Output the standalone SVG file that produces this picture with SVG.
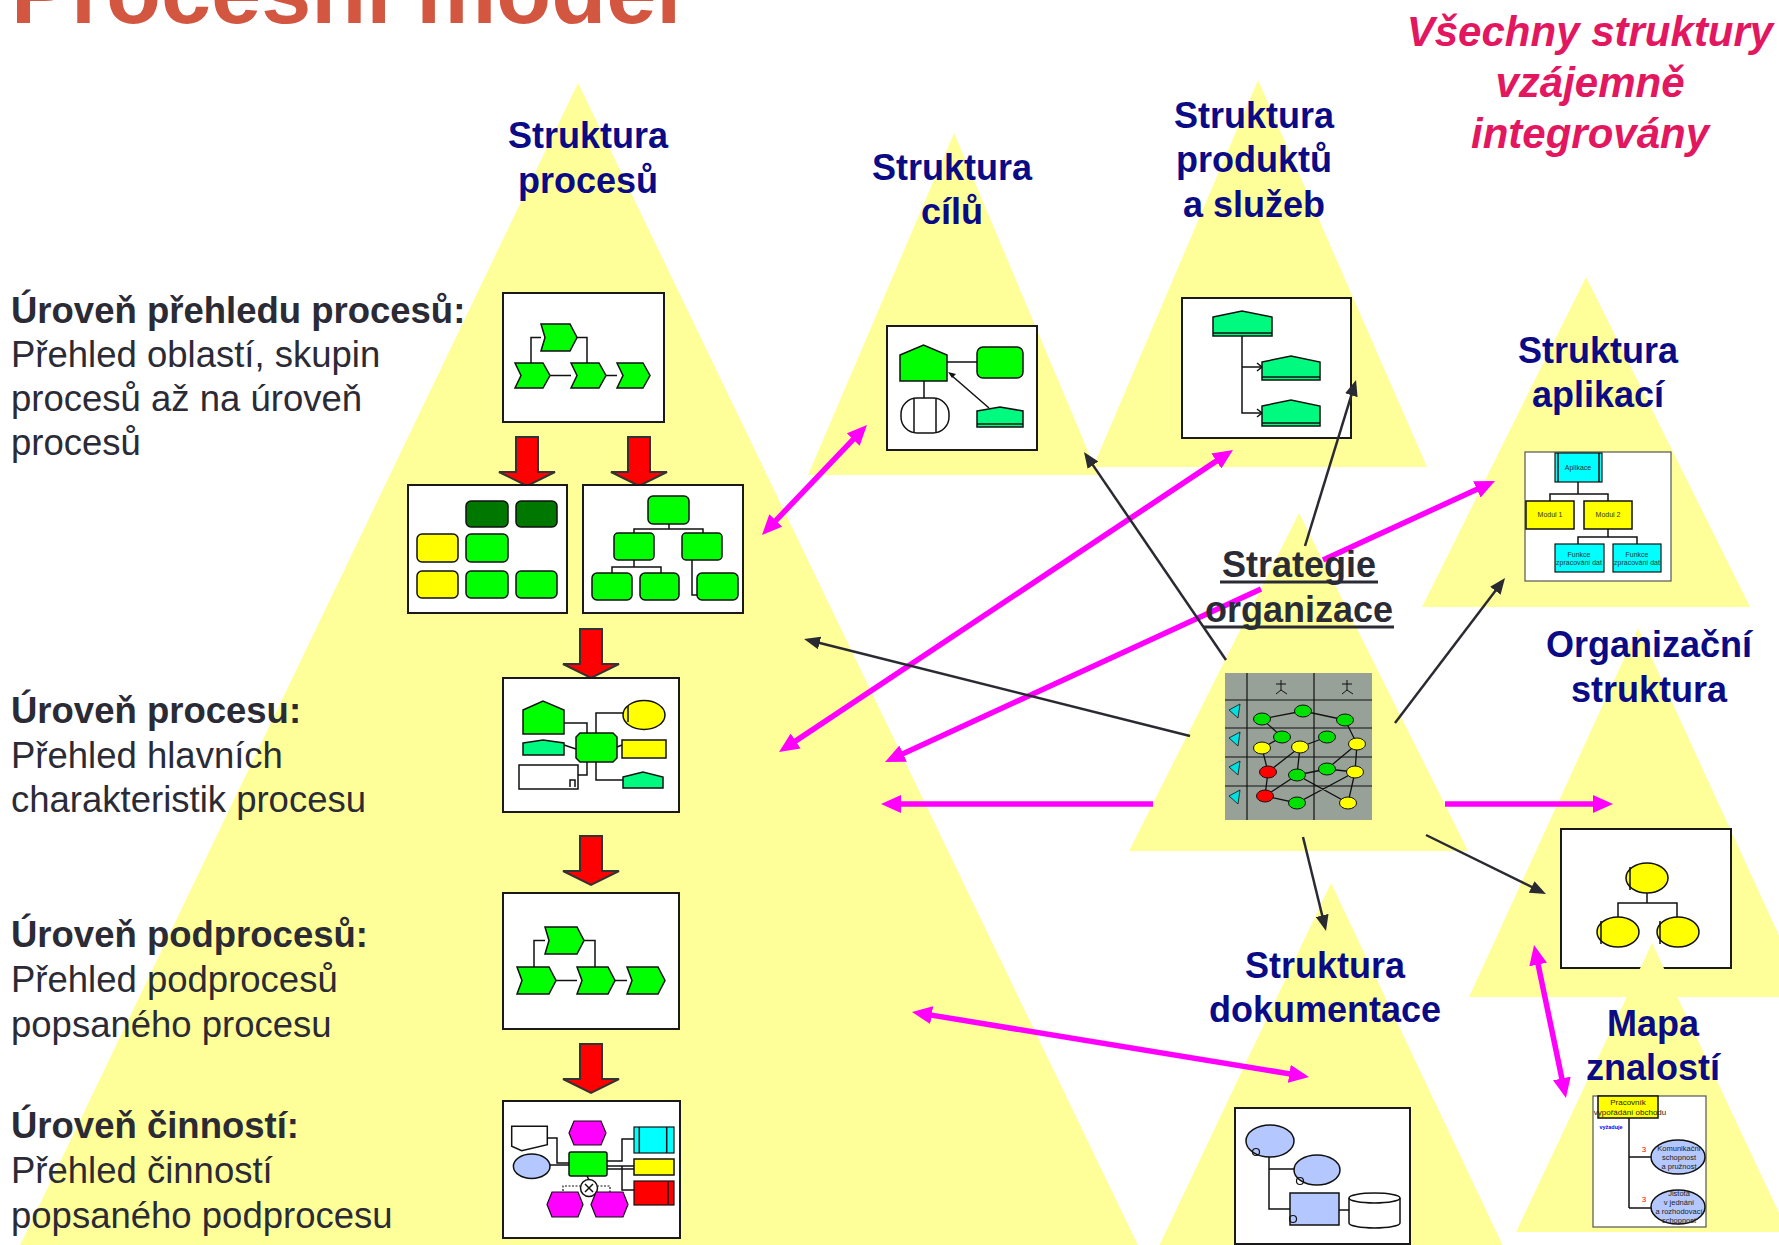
<svg xmlns="http://www.w3.org/2000/svg" width="1779" height="1245" viewBox="0 0 1779 1245">
<style>
.tri{fill:#FFFF99}
.box{fill:#fff;stroke:#1a1a1a;stroke-width:2}
.boxt{fill:#fff;stroke:#555;stroke-width:1.2}
.lbl{font-family:"Liberation Sans",Arial,sans-serif;font-weight:bold;font-size:36px;fill:#0B0B85;text-anchor:middle}
.lvh{font-family:"Liberation Sans",Arial,sans-serif;font-weight:bold;font-size:36.5px;fill:#2B2B36}
.lvt{font-family:"Liberation Sans",Arial,sans-serif;font-size:36.5px;fill:#2B2B36}
.g{fill:#00FF00;stroke:#111;stroke-width:1.5}
.dg{fill:#007800;stroke:#111;stroke-width:1.5}
.tl{fill:#00FA80;stroke:#111;stroke-width:1.5}
.y{fill:#FFFF00;stroke:#111;stroke-width:1.5}
.cy{fill:#00FFFF;stroke:#111;stroke-width:1.2}
.mg{fill:#FF00FF;stroke:#111;stroke-width:1.2}
.lb{fill:#B4C8FF;stroke:#111;stroke-width:1.5}
.rd{fill:#FF0000;stroke:#111;stroke-width:1.2}
.wh{fill:#fff;stroke:#111;stroke-width:1.5}
.ln{stroke:#111;stroke-width:1.5;fill:none}
.tiny{font-family:"Liberation Sans",Arial,sans-serif;font-size:7px;fill:#333;text-anchor:middle}
.mag{stroke:#FF00FF;stroke-width:5.5;fill:none;marker-start:url(#mh);marker-end:url(#mh)}
.blk{stroke:#2A2A33;stroke-width:2.5;fill:none;marker-end:url(#bh)}
</style>
<defs>
<marker id="mh" viewBox="0 0 20 18" refX="8" refY="9" markerWidth="20" markerHeight="18" markerUnits="userSpaceOnUse" orient="auto-start-reverse"><path d="M0,0 L20,9 L0,18 Z" fill="#FF00FF"/></marker>
<marker id="bh" viewBox="0 0 16 13" refX="8" refY="6.5" markerWidth="16" markerHeight="13" markerUnits="userSpaceOnUse" orient="auto"><path d="M0,0 L16,6.5 L0,13 Z" fill="#2A2A33"/></marker>
<path id="ra" d="M-11,0 H11 V35 H28 L0,49 L-28,35 H-11 Z" fill="#FF0000" stroke="#333" stroke-width="2" stroke-linejoin="miter"/>
</defs>
<rect width="1779" height="1245" fill="#fff"/>

<text x="11" y="23" font-family="Liberation Sans, Arial, sans-serif" font-weight="bold" font-size="90" fill="#D35640">Procesní model</text>

<g id="tri-procesy"><polygon class="tri" points="578,83 13,1260 1145,1260"/></g>
<g id="tri-cile"><polygon class="tri" points="954,133 808,475 1098,475"/></g>
<g id="tri-produkty"><polygon class="tri" points="1258,80 1093,467 1427,467"/></g>
<g id="tri-aplikace"><polygon class="tri" points="1586,277 1422,607 1750,607"/></g>
<g id="tri-strategie"><polygon class="tri" points="1299,513 1129,851 1468,851"/></g>
<g id="tri-organizace"><polygon class="tri" points="1638,628 1469,997 1807,997"/></g>
<g id="tri-dokumentace"><polygon class="tri" points="1331,883 1150,1265 1512,1265"/></g>

<!-- Process structure boxes -->
<g id="box-prehled">
<rect class="box" x="503" y="293" width="161" height="129"/>
<path class="ln" d="M541,337.5 H531 V363 M577,337.5 H587 V363 M550,375.5 H571 M606,375.5 H617"/>
<polygon class="g" points="541,324 570,324 577,337.5 570,351 541,351 545,337.5"/>
<polygon class="g" points="515,363 543,363 550,375.5 543,388 515,388 521,375.5"/>
<polygon class="g" points="571,363 599,363 606,375.5 599,388 571,388 577,375.5"/>
<polygon class="g" points="617,363 643,363 650,375.5 643,388 617,388 623,375.5"/>
</g>
<use href="#ra" x="527" y="437"/>
<use href="#ra" x="639" y="437"/>
<g id="box-oblasti">
<rect class="box" x="408" y="485" width="159" height="128" stroke-width="3"/>
<rect class="dg" x="466" y="501" width="42" height="26" rx="5"/>
<rect class="dg" x="516" y="501" width="41" height="26" rx="5"/>
<rect class="y" x="417" y="534" width="41" height="28" rx="5"/>
<rect class="g" x="466" y="534" width="42" height="28" rx="5"/>
<rect class="y" x="417" y="571" width="41" height="27" rx="5"/>
<rect class="g" x="466" y="571" width="42" height="27" rx="5"/>
<rect class="g" x="516" y="571" width="41" height="27" rx="5"/>
</g>
<g id="box-hierarchie">
<rect class="box" x="583" y="485" width="160" height="128"/>
<path class="ln" d="M669,524 V529 M634,533 V529 H703 V533 M634,560 V567 M612,573 V567 H661 V573 M692,560 V595 H697"/>
<rect class="g" x="648" y="496" width="41" height="28" rx="5"/>
<rect class="g" x="614" y="533" width="40" height="27" rx="4"/>
<rect class="g" x="682" y="533" width="40" height="27" rx="4"/>
<rect class="g" x="592" y="573" width="40" height="27" rx="5"/>
<rect class="g" x="640" y="573" width="39" height="27" rx="5"/>
<rect class="g" x="697" y="573" width="41" height="27" rx="5"/>
</g>
<use href="#ra" x="591" y="629"/>
<g id="box-proces">
<rect class="box" x="503" y="678" width="176" height="134"/>
<path class="ln" d="M564,723 H587 V733 M623,713 H596 V733 M596,762 V780 H623 M587,762 V775 H578 M564,745 L576,749 M617,747 L622,745"/>
<polygon class="g" points="523,710 543,701 564,710 564,734 523,734"/>
<polygon class="tl" points="523,743 543,740 564,743 564,755 523,755"/>
<rect class="wh" x="519" y="765" width="59" height="24"/>
<path class="ln" d="M570,787 V780 H575 V787"/>
<polygon class="g" points="580,733 613,733 617,737 617,758 613,762 580,762 576,758 576,737"/>
<ellipse class="y" cx="644" cy="715" rx="21" ry="14.5"/>
<path class="ln" d="M628,706 V722"/>
<rect class="y" x="622" y="740" width="44" height="18"/>
<polygon class="tl" points="623,777 643,772 663,777 663,788 623,788"/>
</g>
<use href="#ra" x="591" y="836"/>
<g id="box-podprocesy">
<rect class="box" x="503" y="893" width="176" height="136"/>
<path class="ln" d="M545,940.5 H534 V967 M584,940.5 H595 V967 M556,980.5 H577 M615,980.5 H627"/>
<polygon class="g" points="545,927 577,927 584,940.5 577,954 545,954 549,940.5"/>
<polygon class="g" points="517,967 549,967 556,980.5 549,994 517,994 522,980.5"/>
<polygon class="g" points="577,967 608,967 615,980.5 608,994 577,994 582,980.5"/>
<polygon class="g" points="627,967 658,967 665,980.5 658,994 627,994 632,980.5"/>
</g>
<use href="#ra" x="591" y="1044"/>
<g id="box-cinnosti">
<rect class="box" x="503" y="1101" width="177" height="137"/>
<path class="ln" d="M547,1138 H557 V1163 H569 M550,1165 H569 M607,1161 H622 V1139 H634 M607,1166 H634 M607,1169 H634 M622,1166 V1190 H634 M587,1176 L589,1180"/>
<path d="M581,1186 H563 V1192 M597,1186 H610 V1192" stroke="#111" stroke-width="1.2" stroke-dasharray="2,1.5" fill="none"/>
<polygon class="wh" points="511.7,1126.3 547.3,1126.3 547.3,1144.7 521.7,1150.7 511.7,1146.3"/>
<ellipse class="lb" cx="531.7" cy="1166.3" rx="18.3" ry="12.3"/>
<polygon class="mg" points="569,1133 574,1121 601,1121 606,1133 601,1145 574,1145"/>
<rect class="g" x="569" y="1152" width="38" height="24" rx="2"/>
<rect class="cy" x="634" y="1127" width="40" height="26"/>
<path class="ln" d="M639.3,1127 V1153 M666.7,1127 V1153"/>
<rect class="y" x="634" y="1159" width="40" height="16"/>
<rect class="rd" x="634" y="1181" width="40" height="24"/>
<path class="ln" d="M668,1182 V1204"/>
<circle class="wh" cx="589" cy="1188" r="8.5"/>
<path class="ln" d="M585,1184 L593,1192 M593,1184 L585,1192"/>
<polygon class="mg" points="547,1204.5 552,1192 578,1192 583,1204.5 578,1217 552,1217"/>
<polygon class="mg" points="591,1204.5 596,1192 623,1192 628,1204.5 623,1217 596,1217"/>
</g>

<!-- Other structures -->
<g id="box-cile">
<rect class="box" x="887" y="326" width="150" height="124"/>
<path class="ln" d="M947,362 H977 M924,381 V398"/>
<polygon class="g" points="900,355 923.5,345 947,355 947,381 900,381"/>
<rect class="g" x="977" y="347" width="46" height="31" rx="6"/>
<rect class="wh" x="901" y="398" width="48" height="35" rx="16"/>
<path class="ln" d="M914,399 V432 M936,399 V432"/>
<polygon class="tl" points="977,411 1000,407 1023,411 1023,427 977,427"/>
<path class="ln" d="M977,424 H1023"/>
<path d="M989,408 L951,375" stroke="#111" stroke-width="1.5" fill="none"/>
<path d="M948,372 L956,374 L952,378 Z" fill="#111"/>
</g>
<g id="box-produkty">
<rect class="box" x="1182" y="298" width="169" height="140"/>
<path class="ln" d="M1242,336 V413 H1262 M1242,367 H1262"/>
<path class="ln" d="M1257,363 L1262,367 L1257,371 M1257,409 L1262,413 L1257,417"/>
<polygon class="tl" points="1213,317 1242,311 1272,317 1272,336 1213,336"/>
<path class="ln" d="M1213,333 H1272"/>
<polygon class="tl" points="1262,362 1291,356 1320,362 1320,380 1262,380"/>
<path class="ln" d="M1262,377 H1320"/>
<polygon class="tl" points="1262,406 1291,400 1320,406 1320,426 1262,426"/>
<path class="ln" d="M1262,423 H1320"/>
</g>
<g id="box-aplikace">
<rect class="boxt" x="1525" y="452" width="146" height="129"/>
<path class="ln" d="M1578,482 V494 M1550,501 V494 H1608 V501 M1608,529 V537 M1578,544 V537 H1637 V544" stroke-width="1.2"/>
<rect class="cy" x="1555" y="453" width="47" height="29"/>
<path class="ln" d="M1558,453 V482 M1599,453 V482" stroke-width="0.8"/>
<text class="tiny" x="1578" y="470">Aplikace</text>
<rect class="y" x="1526" y="501" width="48" height="28" stroke-width="1.2"/>
<text class="tiny" x="1550" y="517">Modul 1</text>
<rect class="y" x="1584" y="501" width="48" height="28" stroke-width="1.2"/>
<text class="tiny" x="1608" y="517">Modul 2</text>
<rect class="cy" x="1555" y="544" width="49" height="28"/>
<text class="tiny" x="1579" y="557">Funkce</text>
<text class="tiny" x="1579" y="565">zpracování dat</text>
<rect class="cy" x="1613" y="544" width="48" height="28"/>
<text class="tiny" x="1637" y="557">Funkce</text>
<text class="tiny" x="1637" y="565">zpracování dat</text>
</g>
<g id="box-strategie">
<rect x="1225" y="673" width="147" height="147" fill="#98A198"/>
<path d="M1247,673 V820 M1314,673 V820 M1225,700 H1372 M1225,728 H1372 M1225,757 H1372 M1225,786 H1372" stroke="#111" stroke-width="1.2" fill="none"/>
<path d="M1262,719 L1303,711 L1345,720 M1262,719 L1282,737 L1262,748 M1345,720 L1357,744 M1262,748 L1268,772 L1300,747 L1327,737 M1300,747 L1297,775 M1357,744 L1327,769 M1357,744 L1355,772 M1297,775 L1327,769 M1268,772 L1265,796 L1297,803 L1355,772 M1265,796 L1297,775 L1348,803 L1355,772 M1327,769 L1355,772" stroke="#111" stroke-width="1.3" fill="none"/>
<g stroke="#111" stroke-width="1">
<ellipse cx="1262" cy="719" rx="8.5" ry="6" fill="#00E000"/>
<ellipse cx="1303" cy="711" rx="8.5" ry="6" fill="#00E000"/>
<ellipse cx="1345" cy="720" rx="8.5" ry="6" fill="#00E000"/>
<ellipse cx="1282" cy="737" rx="8.5" ry="6" fill="#00E000"/>
<ellipse cx="1327" cy="737" rx="8.5" ry="6" fill="#00E000"/>
<ellipse cx="1262" cy="748" rx="8.5" ry="6" fill="#FFFF00"/>
<ellipse cx="1300" cy="747" rx="8.5" ry="6" fill="#FFFF00"/>
<ellipse cx="1357" cy="744" rx="8.5" ry="6" fill="#FFFF00"/>
<ellipse cx="1268" cy="772" rx="8.5" ry="6" fill="#FF0000"/>
<ellipse cx="1297" cy="775" rx="8.5" ry="6" fill="#00E000"/>
<ellipse cx="1327" cy="769" rx="8.5" ry="6" fill="#00E000"/>
<ellipse cx="1355" cy="772" rx="8.5" ry="6" fill="#FFFF00"/>
<ellipse cx="1265" cy="796" rx="8.5" ry="6" fill="#FF0000"/>
<ellipse cx="1297" cy="803" rx="8.5" ry="6" fill="#00E000"/>
<ellipse cx="1348" cy="803" rx="8.5" ry="6" fill="#FFFF00"/>
</g>
<g fill="#00E0E0" stroke="#111" stroke-width="0.8">
<polygon points="1229,710 1240,704 1238,718"/>
<polygon points="1229,738 1240,732 1238,746"/>
<polygon points="1229,767 1240,761 1238,775"/>
<polygon points="1229,796 1240,790 1238,804"/>
</g>
<path d="M1281,680 V690 L1276,694 M1281,690 L1287,694 M1276,684 H1286 M1347,680 V690 L1342,694 M1347,690 L1353,694 M1342,684 H1352" stroke="#111" stroke-width="1" fill="none"/>
</g>
<g id="box-organizace">
<rect class="box" x="1561" y="829" width="170" height="139"/>
<path class="ln" d="M1647,893 V903 M1618,917 V903 H1677 V917"/>
<ellipse class="y" cx="1647" cy="878" rx="21" ry="15"/>
<ellipse class="y" cx="1618" cy="932" rx="21" ry="15"/>
<ellipse class="y" cx="1678" cy="932" rx="21" ry="15"/>
<path class="ln" d="M1630,867 V890 M1601,921 V944 M1660,921 V944"/>
</g>
<g id="tri-mapa"><polygon class="tri" points="1652,943 1516,1232 1788,1232"/></g>
<g id="box-dokumentace">
<rect class="box" x="1235" y="1108" width="175" height="136"/>
<path class="ln" d="M1269,1157 V1209 H1290 M1269,1169 H1294 M1339,1210 H1349"/>
<ellipse class="lb" cx="1270" cy="1141" rx="24" ry="16"/>
<ellipse class="lb" cx="1317" cy="1170" rx="23" ry="15"/>
<rect class="lb" x="1290" y="1193" width="49" height="32"/>
<path class="wh" d="M1349,1198 V1223 A25.5,5 0 0 0 1400,1223 V1198 A25.5,5 0 0 0 1349,1198 Z"/>
<path class="ln" d="M1349,1198 A25.5,5 0 0 0 1400,1198"/>
<g fill="none" stroke="#111" stroke-width="1.2">
<circle cx="1256" cy="1152" r="3.5"/>
<circle cx="1300" cy="1181" r="3.5"/>
<circle cx="1293" cy="1219" r="3.5"/>
</g>
</g>
<g id="box-mapa">
<rect class="boxt" x="1593" y="1096" width="113" height="131"/>
<rect class="y" x="1598" y="1096" width="60" height="22" stroke-width="1"/>
<text x="1628" y="1105" font-family="Liberation Sans, Arial, sans-serif" font-size="8" fill="#222" text-anchor="middle">Pracovník</text>
<text x="1630" y="1115" font-family="Liberation Sans, Arial, sans-serif" font-size="8" fill="#222" text-anchor="middle">vypořádání obchodu</text>
<text x="1611" y="1129" font-family="Liberation Sans, Arial, sans-serif" font-size="5.5" font-weight="bold" fill="#0000FF" text-anchor="middle">vyžaduje</text>
<path class="ln" d="M1629,1118 V1208 M1629,1157 H1651 M1629,1208 H1651" stroke-width="1"/>
<text x="1644" y="1152" font-family="Liberation Sans, Arial, sans-serif" font-size="8" fill="#FF0000" text-anchor="middle">3</text>
<text x="1644" y="1202" font-family="Liberation Sans, Arial, sans-serif" font-size="8" fill="#FF0000" text-anchor="middle">3</text>
<ellipse class="lb" cx="1678" cy="1157" rx="27" ry="17" stroke-width="1"/>
<ellipse class="lb" cx="1678" cy="1207" rx="27" ry="17" stroke-width="1"/>
<g font-family="Liberation Sans, Arial, sans-serif" font-size="7.5" fill="#222" text-anchor="middle">
<text x="1679" y="1151">Komunikační</text>
<text x="1679" y="1160">schopnost</text>
<text x="1679" y="1169">a pružnost</text>
<text x="1679" y="1196">Jistota</text>
<text x="1679" y="1205">v jednání</text>
<text x="1679" y="1214">a rozhodovací</text>
<text x="1679" y="1223">schopnost</text>
</g>
</g>

<!-- Connectors -->
<g id="connectors">
<path class="mag" d="M770.3,526.3 L858.7,433.7"/>
<path class="mag" d="M789,745.4 L1223,456.6"/>
<path class="mag" d="M895.9,757 L1261,589 M1323,560 L1484.1,486"/>
<path class="mag" d="M893,804 L1153,804 M1445,804 L1601,804"/>
<path class="mag" d="M923.8,1013.9 L1297.2,1075.1"/>
<path class="mag" d="M1536.5,956.7 L1563.5,1086.3"/>
<path class="blk" d="M1190,736 L811.8,641"/>
<path class="blk" d="M1226,660 L1088.5,458.6"/>
<path class="blk" d="M1305,546 L1353.7,387.6"/>
<path class="blk" d="M1395,723 L1500.2,584.4"/>
<path class="blk" d="M1426,835 L1538.8,890.5"/>
<path class="blk" d="M1303,837 L1324.1,923.2"/>
</g>

<!-- Labels -->
<g id="labels">
<text class="lbl"><tspan x="588" y="148">Struktura</tspan><tspan x="588" y="193">procesů</tspan></text>
<text class="lbl"><tspan x="952" y="180">Struktura</tspan><tspan x="952" y="224">cílů</tspan></text>
<text class="lbl"><tspan x="1254" y="128">Struktura</tspan><tspan x="1254" y="172">produktů</tspan><tspan x="1254" y="217">a služeb</tspan></text>
<text class="lbl"><tspan x="1598" y="363">Struktura</tspan><tspan x="1598" y="407">aplikací</tspan></text>
<text class="lbl"><tspan x="1649" y="657">Organizační</tspan><tspan x="1649" y="702">struktura</tspan></text>
<text class="lbl"><tspan x="1325" y="978">Struktura</tspan><tspan x="1325" y="1022">dokumentace</tspan></text>
<text class="lbl"><tspan x="1653" y="1036">Mapa</tspan><tspan x="1653" y="1080">znalostí</tspan></text>
<text class="lbl" style="fill:#2B2B36"><tspan x="1299" y="577">Strategie</tspan><tspan x="1299" y="622">organizace</tspan></text>
<path d="M1220,582 H1378 M1203,627 H1394" stroke="#2B2B36" stroke-width="3"/>
<text font-family="Liberation Sans, Arial, sans-serif" font-weight="bold" font-style="italic" font-size="42" fill="#E3175F" text-anchor="middle"><tspan x="1590" y="46">Všechny struktury</tspan><tspan x="1590" y="97">vzájemně</tspan><tspan x="1590" y="148">integrovány</tspan></text>
</g>

<g id="levels">
<text class="lvh" x="11" y="323">Úroveň přehledu procesů:</text>
<text class="lvt"><tspan x="11" y="367">Přehled oblastí, skupin</tspan><tspan x="11" y="411">procesů až na úroveň</tspan><tspan x="11" y="455">procesů</tspan></text>
<text class="lvh" x="11" y="723">Úroveň procesu:</text>
<text class="lvt"><tspan x="11" y="768">Přehled hlavních</tspan><tspan x="11" y="812">charakteristik procesu</tspan></text>
<text class="lvh" x="11" y="947">Úroveň podprocesů:</text>
<text class="lvt"><tspan x="11" y="992">Přehled podprocesů</tspan><tspan x="11" y="1037">popsaného procesu</tspan></text>
<text class="lvh" x="11" y="1138">Úroveň činností:</text>
<text class="lvt"><tspan x="11" y="1183">Přehled činností</tspan><tspan x="11" y="1228">popsaného podprocesu</tspan></text>
</g>
</svg>
